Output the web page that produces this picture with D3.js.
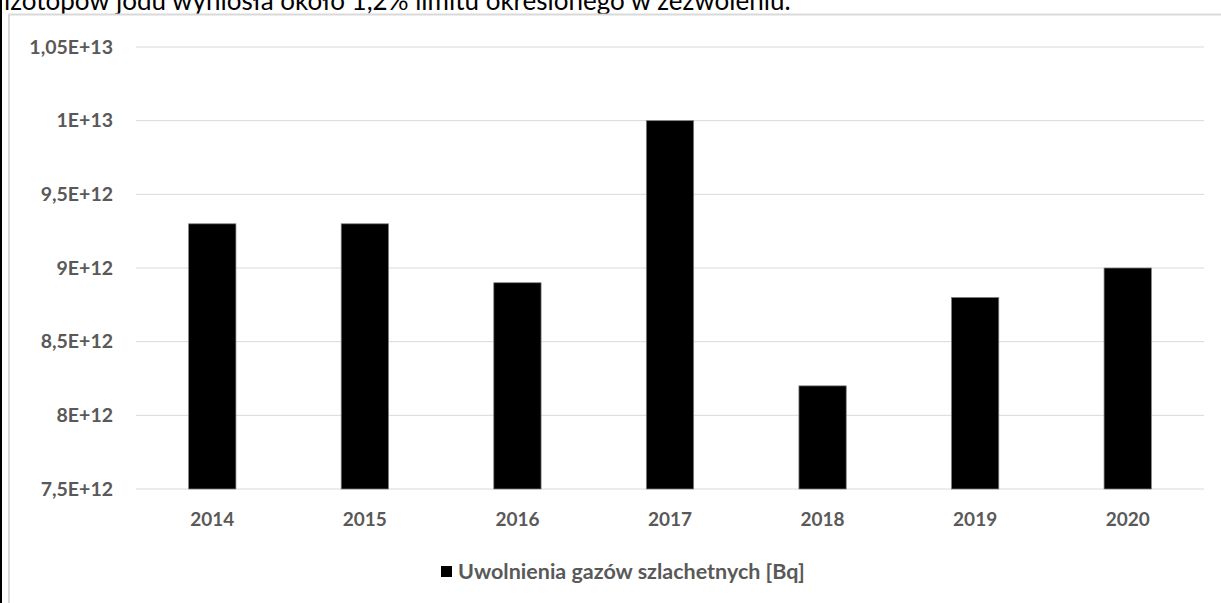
<!DOCTYPE html>
<html>
<head>
<meta charset="utf-8">
<script src="https://cdn.jsdelivr.net/npm/d3@7"></script>
<style>
  body { margin: 0; background: #fff; }
  svg text { font-family: Lato, "Open Sans", sans-serif; }
</style>
</head>
<body>
<svg id="chart" width="1221" height="603"></svg>
<script>
// data
var years = ['2014', '2015', '2016', '2017', '2018', '2019', '2020'];
var releases = [9.3e12, 9.3e12, 8.9e12, 1.0e13, 8.2e12, 8.8e12, 9.0e12];
var yTicks = [7.5e12, 8e12, 8.5e12, 9e12, 9.5e12, 1e13, 1.05e13];
var yTickLabels = ['7,5E+12', '8E+12', '8,5E+12', '9E+12', '9,5E+12', '1E+13', '1,05E+13'];
var seriesName = 'Uwolnienia gazów szlachetnych [Bq]';
var topLine = 'izotopów jodu wyniosła około 1,2% limitu określonego w zezwoleniu.';

var svg = d3.select('#chart');

// cut-off sentence above the chart
svg.append('text')
  .attr('x', 4).attr('y', 10)
  .attr('font-size', 26).attr('fill', '#000')
  .text(topLine);

// page edge + chart frame
svg.append('rect').attr('x', 0).attr('y', 0).attr('width', 2).attr('height', 603).attr('fill', '#000');
svg.append('path')
  .attr('d', 'M9,603 V14.5 H1221')
  .attr('fill', 'none').attr('stroke', '#d9d9d9').attr('stroke-width', 2);

var plotL = 136, plotR = 1204, plotT = 47, plotB = 489;

var x = d3.scaleBand().domain(years).range([plotL, plotR]).paddingInner(0.69).paddingOuter(0.345);
var y = d3.scaleLinear().domain([7.5e12, 1.05e13]).range([plotB, plotT]);

// gridlines
svg.append('g').selectAll('line')
  .data(yTicks).enter()
  .append('line')
  .attr('x1', plotL).attr('x2', plotR)
  .attr('y1', function(d) { return y(d); })
  .attr('y2', function(d) { return y(d); })
  .attr('stroke', '#d9d9d9').attr('stroke-width', 1);

// y labels
svg.append('g').selectAll('text')
  .data(yTicks).enter()
  .append('text')
  .attr('x', 113)
  .attr('y', function(d) { return y(d); })
  .attr('dy', '0.35em')
  .attr('text-anchor', 'end')
  .attr('font-size', 19.5).attr('font-weight', 'bold').attr('fill', '#595959')
  .text(function(d, i) { return yTickLabels[i]; });

// bars
svg.append('g').selectAll('rect')
  .data(releases).enter()
  .append('rect')
  .attr('x', function(d, i) { return x(years[i]); })
  .attr('width', x.bandwidth())
  .attr('y', function(d) { return y(d); })
  .attr('height', function(d) { return plotB - y(d); })
  .attr('fill', '#000').attr('stroke', '#7f7f7f').attr('stroke-width', 0.75);

// x labels
svg.append('g').selectAll('text')
  .data(years).enter()
  .append('text')
  .attr('x', function(d) { return x(d) + x.bandwidth() / 2; })
  .attr('y', 526)
  .attr('text-anchor', 'middle')
  .attr('font-size', 19).attr('font-weight', 'bold').attr('fill', '#595959')
  .text(function(d) { return d; });

// legend
var lg = svg.append('g');
lg.append('rect').attr('x', 441).attr('y', 566).attr('width', 11).attr('height', 11).attr('fill', '#000');
lg.append('text')
  .attr('x', 458).attr('y', 579)
  .attr('font-size', 21.5).attr('font-weight', 'bold').attr('fill', '#595959')
  .text(seriesName);
</script>
</body>
</html>
